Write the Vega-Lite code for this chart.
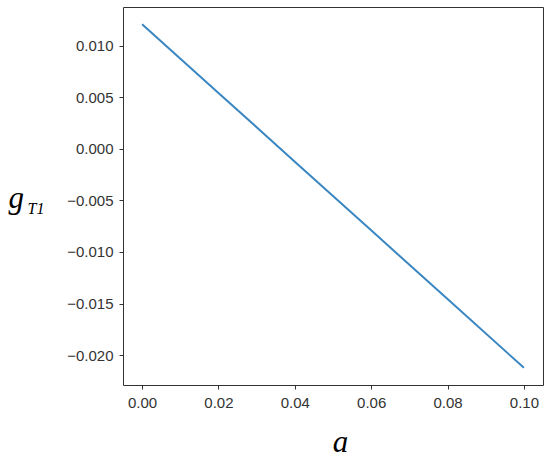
{
  "$schema": "https://vega.github.io/schema/vega-lite/v6.json",
  "autosize": {"type": "none"},
  "width": 420,
  "height": 378,
  "padding": {"left": 123, "top": 7, "right": 7, "bottom": 73},
  "background": "white",
  "config": {
    "view": {"stroke": "#333333", "strokeWidth": 1},
    "axis": {
      "labelFont": "Liberation Sans Narrow, Liberation Sans, sans-serif",
      "labelFontSize": 15,
      "labelColor": "#333333",
      "tickColor": "#333333",
      "tickSize": 4,
      "tickWidth": 1,
      "labelPadding": 6,
      "grid": false,
      "domain": false,
      "titleFont": "Liberation Serif",
      "titleFontStyle": "italic",
      "titleFontWeight": "normal",
      "titleColor": "#000000"
    }
  },
  "data": {
    "values": [
      {"a": 0.0, "g": 0.01211},
      {"a": 0.02, "g": 0.00544},
      {"a": 0.04, "g": -0.00123},
      {"a": 0.06, "g": -0.0079},
      {"a": 0.08, "g": -0.01457},
      {"a": 0.1, "g": -0.02124}
    ]
  },
  "encoding": {
    "x": {
      "field": "a",
      "type": "quantitative",
      "scale": {"domain": [-0.005, 0.105], "nice": false, "zero": false},
      "axis": {
        "values": [0, 0.02, 0.04, 0.06, 0.08, 0.1],
        "format": ".2f",
        "title": "a",
        "titleFontSize": 31,
        "titleX": 217,
        "titleY": 66,
        "titleAlign": "center",
        "titleBaseline": "alphabetic"
      }
    }
  },
  "layer": [
    {
      "mark": {"type": "line", "color": "#3a86c1", "strokeWidth": 2},
      "encoding": {
        "y": {
          "field": "g",
          "type": "quantitative",
          "scale": {"domain": [-0.02291, 0.01378], "nice": false, "zero": false},
          "axis": {
            "values": [-0.02, -0.015, -0.01, -0.005, 0, 0.005, 0.01],
            "format": ".3f",
            "title": "g",
            "titleFontSize": 31,
            "titleAngle": 0,
            "titleAlign": "left",
            "titleBaseline": "alphabetic",
            "titleX": -115,
            "titleY": 200
          }
        }
      }
    },
    {
      "mark": {"type": "line", "strokeOpacity": 0},
      "encoding": {
        "y": {
          "field": "g",
          "type": "quantitative",
          "scale": {"domain": [-0.02291, 0.01378], "nice": false, "zero": false},
          "axis": {
            "orient": "right",
            "labels": false,
            "ticks": false,
            "domain": false,
            "title": "T1",
            "titleFontSize": 16,
            "titleAngle": 0,
            "titleAlign": "left",
            "titleBaseline": "alphabetic",
            "titleX": -516,
            "titleY": 206
          }
        }
      }
    }
  ],
  "resolve": {"axis": {"y": "independent"}}
}
